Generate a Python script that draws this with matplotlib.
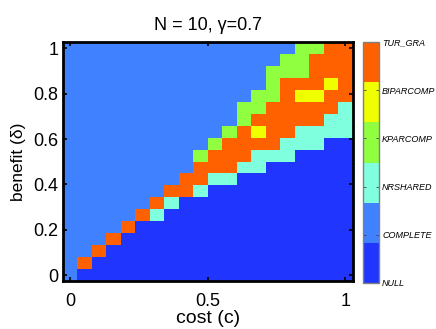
import numpy as np
import matplotlib
matplotlib.use('Agg')
import matplotlib.pyplot as plt
from matplotlib.colors import ListedColormap

plt.rcParams['font.family'] = ['Liberation Sans', 'DejaVu Sans']

# regime names (colorbar) and their colours
classes = ['NULL', 'COMPLETE', 'NRSHARED', 'KPARCOMP', 'BIPARCOMP', 'TUR_GRA']
colors = ['#2036ff', '#4081ff', '#80ffdf', '#90ff40', '#f0ff00', '#ff6000']
codes = {'N': 0, 'C': 1, 'S': 2, 'K': 3, 'B': 4, 'T': 5}

cost = np.linspace(0, 1, 20)
benefit = np.linspace(0, 1, 20)

# one string per benefit value (bottom row first), one char per cost value
rows = [
    'CNNNNNNNNNNNNNNNNNNN',
    'CTNNNNNNNNNNNNNNNNNN',
    'CCTNNNNNNNNNNNNNNNNN',
    'CCCTNNNNNNNNNNNNNNNN',
    'CCCCTNNNNNNNNNNNNNNN',
    'CCCCCTSNNNNNNNNNNNNN',
    'CCCCCCTSNNNNNNNNNNNN',
    'CCCCCCCTTSNNNNNNNNNN',
    'CCCCCCCCTTSSNNNNNNNN',
    'CCCCCCCCCTTTSSNNNNNN',
    'CCCCCCCCCKTTTSSSNNNN',
    'CCCCCCCCCCKTTTTSSSNN',
    'CCCCCCCCCCCKTBTTSSSS',
    'CCCCCCCCCCCCKTTTTTSS',
    'CCCCCCCCCCCCKKTTTTTS',
    'CCCCCCCCCCCCCKKTBBTT',
    'CCCCCCCCCCCCCCKTTTBT',
    'CCCCCCCCCCCCCCKKKTTT',
    'CCCCCCCCCCCCCCCKKTTT',
    'CCCCCCCCCCCCCCCCKKTT',
]
grid = np.array([[codes[ch] for ch in r] for r in rows])

fig = plt.figure(figsize=(4.36, 3.29), dpi=100)
ax = fig.add_axes([0.1438, 0.146, 0.665, 0.725])
cax = fig.add_axes([0.8333, 0.140, 0.0367, 0.732])

dx = (cost[1] - cost[0]) / 2
dy = (benefit[1] - benefit[0]) / 2
cmap = ListedColormap(colors)
im = ax.imshow(grid, origin='lower', cmap=cmap, vmin=0, vmax=5, aspect='auto',
               interpolation='nearest',
               extent=[cost[0] - dx, cost[-1] + dx, benefit[0] - dy, benefit[-1] + dy])

ax.set_xticks([0, 0.5, 1])
ax.set_xticklabels(['0', '0.5', '1'])
ax.set_yticks([0, 0.2, 0.4, 0.6, 0.8, 1])
ax.set_yticklabels(['0', '0.2', '0.4', '0.6', '0.8', '1'])
ax.tick_params(direction='in', length=3, width=1.2, labelsize=13,
               top=True, right=True)
ax.tick_params(axis='x', pad=9)
ax.tick_params(axis='y', pad=3)
for s in ax.spines.values():
    s.set_linewidth(2)

ax.set_xlabel('cost (c)', fontsize=14, labelpad=0)
ax.set_ylabel('benefit (δ)', fontsize=12.5, labelpad=5)
ax.set_title('N = 10, γ=0.7', fontsize=13, pad=9)

cb = fig.colorbar(im, cax=cax, ticks=range(6))
cb.ax.set_yticklabels(classes, fontsize=6.5, style='italic')
cb.ax.tick_params(direction='in', length=2, width=0.6, left=True, right=True,
                  colors='#404040', labelcolor='black', pad=2)
cb.outline.set_edgecolor('#808080')
cb.outline.set_linewidth(1)

fig.savefig('out.png', dpi=100)
